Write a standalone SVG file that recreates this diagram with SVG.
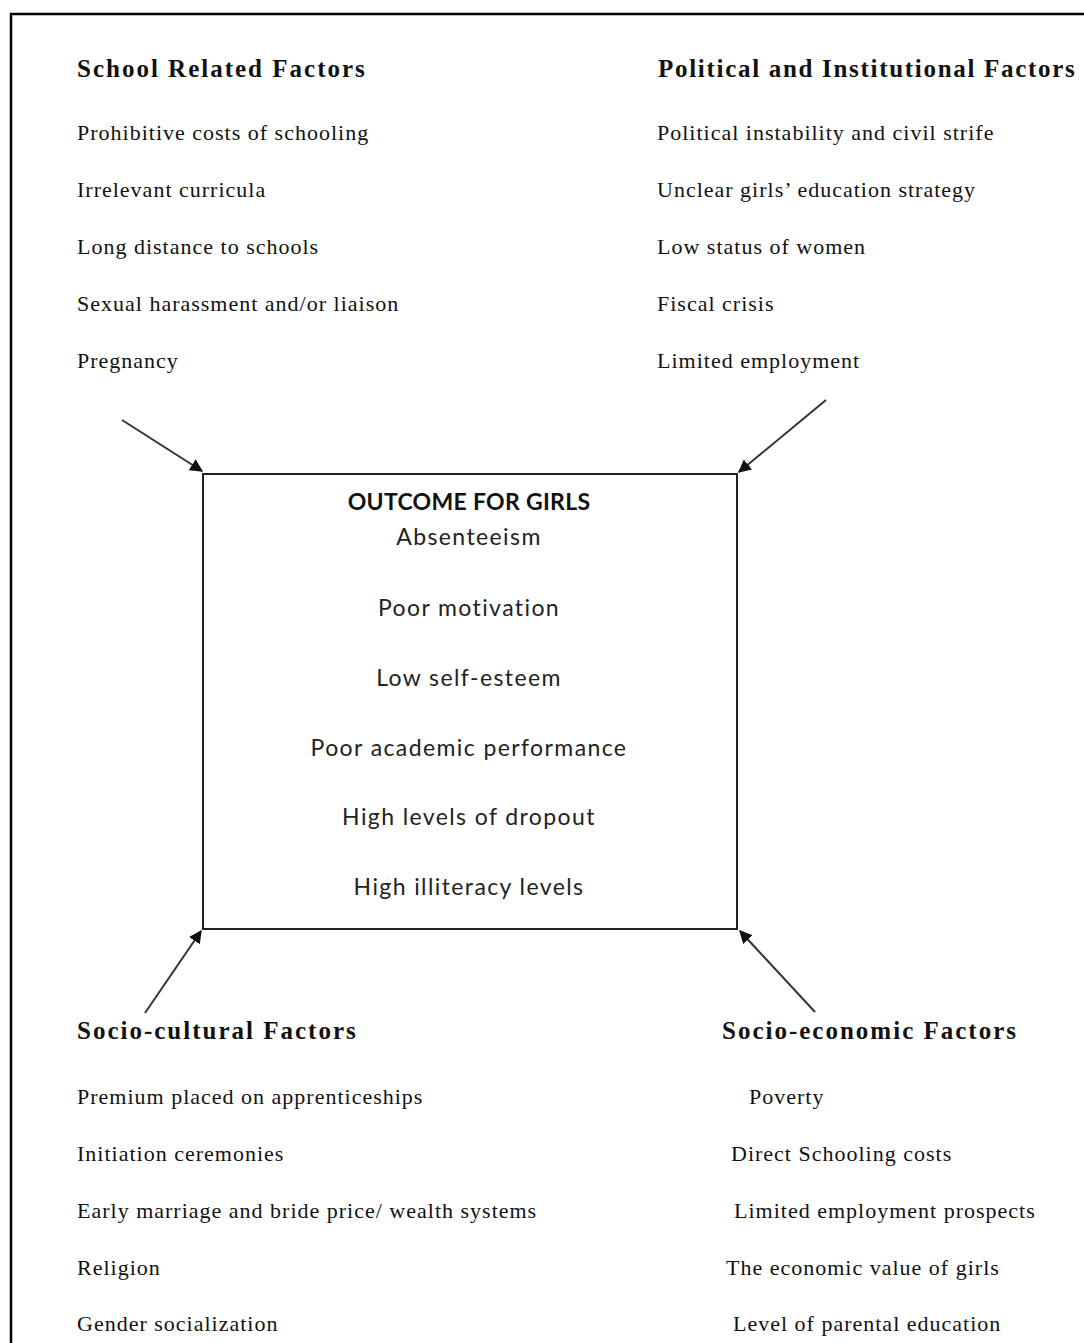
<svg xmlns="http://www.w3.org/2000/svg" width="1084" height="1343" viewBox="0 0 1084 1343">
<style>
.h{font-family:"Liberation Serif","Times New Roman",serif;font-weight:bold;font-size:25px;fill:#111;letter-spacing:2px}
.t{font-family:"Liberation Serif","Times New Roman",serif;font-size:22px;fill:#111;letter-spacing:1px}
.c{font-family:Lato,"Open Sans",sans-serif;font-size:23px;fill:#222;text-anchor:middle;letter-spacing:1.4px}
.cb{font-family:Lato,"Open Sans",sans-serif;font-size:23px;font-weight:bold;fill:#111;text-anchor:middle;letter-spacing:0.3px}
.ln{stroke:#333;stroke-width:2;fill:none}
</style>
<defs>
<marker id="ah" viewBox="0 0 10 10" refX="9" refY="5" markerWidth="13" markerHeight="13" markerUnits="userSpaceOnUse" orient="auto">
<path d="M0,0 L10,5 L0,10 z" fill="#111"/>
</marker>
</defs>
<rect x="0" y="0" width="1084" height="1343" fill="#fff"/>
<path d="M11,1343 V14 H1084" stroke="#000" stroke-width="2.5" fill="none"/>
<g id="school">
<text class="h" x="77" y="77">School Related Factors</text>
<text class="t" x="77" y="140">Prohibitive costs of schooling</text>
<text class="t" x="77" y="197">Irrelevant curricula</text>
<text class="t" x="77" y="254">Long distance to schools</text>
<text class="t" x="77" y="311">Sexual harassment and/or liaison</text>
<text class="t" x="77" y="368">Pregnancy</text>
</g>
<g id="political">
<text class="h" x="658" y="77" style="letter-spacing:1.7px">Political and Institutional Factors</text>
<text class="t" x="657" y="140">Political instability and civil strife</text>
<text class="t" x="657" y="197">Unclear girls’ education strategy</text>
<text class="t" x="657" y="254">Low status of women</text>
<text class="t" x="657" y="311">Fiscal crisis</text>
<text class="t" x="657" y="368">Limited employment</text>
</g>
<g id="outcome">
<rect x="203" y="474" width="534" height="455" fill="none" stroke="#222" stroke-width="2"/>
<text class="cb" x="469" y="510">OUTCOME FOR GIRLS</text>
<text class="c" x="469" y="545">Absenteeism</text>
<text class="c" x="469" y="616">Poor motivation</text>
<text class="c" x="469" y="686">Low self-esteem</text>
<text class="c" x="469" y="756">Poor academic performance</text>
<text class="c" x="469" y="825">High levels of dropout</text>
<text class="c" x="469" y="895">High illiteracy levels</text>
</g>
<g id="sociocultural">
<text class="h" x="77" y="1039">Socio-cultural Factors</text>
<text class="t" x="77" y="1104">Premium placed on apprenticeships</text>
<text class="t" x="77" y="1161">Initiation ceremonies</text>
<text class="t" x="77" y="1218">Early marriage and bride price/ wealth systems</text>
<text class="t" x="77" y="1275">Religion</text>
<text class="t" x="77" y="1331">Gender socialization</text>
</g>
<g id="socioeconomic">
<text class="h" x="722" y="1039">Socio-economic Factors</text>
<text class="t" x="749" y="1104">Poverty</text>
<text class="t" x="731" y="1161">Direct Schooling costs</text>
<text class="t" x="734" y="1218">Limited employment prospects</text>
<text class="t" x="726" y="1275">The economic value of girls</text>
<text class="t" x="733" y="1331">Level of parental education</text>
</g>
<g id="connectors">
<line class="ln" x1="122" y1="420" x2="202" y2="471" marker-end="url(#ah)"/>
<line class="ln" x1="826" y1="400" x2="739" y2="472" marker-end="url(#ah)"/>
<line class="ln" x1="145" y1="1013" x2="201" y2="931" marker-end="url(#ah)"/>
<line class="ln" x1="815" y1="1012" x2="740" y2="931" marker-end="url(#ah)"/>
</g>
</svg>
